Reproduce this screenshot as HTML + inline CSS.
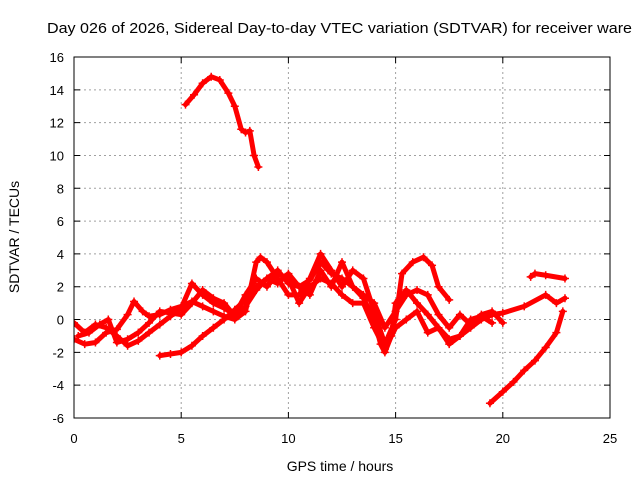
<!DOCTYPE html>
<html><head><meta charset="utf-8"><style>
body{margin:0;background:#fff}
svg{display:block;font-family:"Liberation Sans",sans-serif}
</style></head><body>
<svg id="chart" width="640" height="480" viewBox="0 0 640 480">
<rect width="640" height="480" fill="#fff"/>
<text x="47" y="33" font-size="15" textLength="585" lengthAdjust="spacingAndGlyphs" fill="#000">Day 026 of 2026, Sidereal Day-to-day VTEC variation (SDTVAR) for receiver ware</text>
<g id="grid"></g>
<g id="series" clip-path="url(#clip)"></g>
<defs><clipPath id="clip"><rect x="74" y="57" width="536" height="361"/></clipPath></defs>
<rect x="74" y="57" width="536" height="361" fill="none" stroke="#000" stroke-width="1"/>
<g id="ticks"></g>
<text x="19" y="237" font-size="14" text-anchor="middle" transform="rotate(-90 19 237)">SDTVAR / TECUs</text>
<text x="340" y="471" font-size="14" text-anchor="middle">GPS time / hours</text>
</svg>
<script>
const xTicks=[0,5,10,15,20,25];
const yTicks=[-6,-4,-2,0,2,4,6,8,10,12,14,16];
const trackHigh=[[5.2,13.1],[5.6,13.7],[6.0,14.4],[6.4,14.8],[6.8,14.6],[7.2,13.8],[7.5,13.0],[7.8,11.6],[8.0,11.4],[8.2,11.5],[8.4,10.0],[8.6,9.3]];
const trackRise=[[19.4,-5.1],[20,-4.4],[20.5,-3.8],[21,-3.1],[21.5,-2.5],[22,-1.7],[22.5,-0.8],[22.8,0.5]];
const trackTopRight=[[21.3,2.6],[21.5,2.8],[22,2.7],[22.9,2.5]];
const trackA=[[4,-2.2],[4.5,-2.1],[5,-2.0],[5.5,-1.6],[6,-1],[6.5,-0.5],[7,0],[7.5,0.6],[8,1.2],[8.5,2.0],[9,2.5],[9.5,2.2],[10,2.8],[10.5,2.0],[11,2.4],[11.5,3.5],[12,2.8],[12.5,2.5],[13,2.0],[13.5,1.3],[14,0.0],[14.3,-1.5],[14.5,-2.0],[14.8,-1.0],[15,1.0],[15.5,1.8],[16,1.0],[16.5,0.3],[17,-0.5],[17.5,-1.5],[18,-1.0],[18.5,-0.5],[19,0],[19.5,0.3],[20,0.4],[21,0.8],[22,1.5],[22.5,1.0],[22.9,1.3]];
const trackB=[[0,-1.2],[0.5,-1.5],[1,-1.4],[1.5,-0.8],[2,-0.6],[2.5,0.3],[2.8,1.1],[3.2,0.5],[3.5,0.2],[4,0.3],[4.5,0.6],[5,0.8],[5.5,1.1],[6,0.8],[6.5,0.5],[7,0.2],[7.5,0],[8,0.5],[8.5,3.5],[8.7,3.8],[9,3.5],[9.5,2.5],[10,1.5],[10.5,1.5],[11,2.5],[11.5,4.0],[12,3.0],[12.5,2.0],[13,3.0],[13.5,2.5],[14,0.5],[14.5,-1.5],[15,0],[15.3,2.8],[15.8,3.5],[16.3,3.8],[16.7,3.3],[17,2.0],[17.5,1.2]];
const trackC=[[0,-0.2],[0.5,-0.8],[1,-0.3],[1.5,-0.5],[2,-1.0],[2.5,-1.6],[3,-1.3],[3.5,-0.8],[4,-0.3],[4.5,0.2],[5,0.7],[5.5,2.2],[6,1.5],[6.5,1.0],[7,0.7],[7.5,0.3],[8,1.5],[8.5,2.5],[9,2.0],[9.5,2.8],[10,2.5],[10.5,1.0],[11,2.0],[11.5,2.5],[12,2.2],[12.5,1.5],[13,1.0],[13.5,1.0],[14,-0.5],[14.5,-1.8],[15,-0.5],[15.5,0],[16,0.5],[16.5,-0.8],[17,-0.5],[17.5,-1.2],[18,-1.0],[18.5,0],[19,0.2],[19.5,-0.2]];
const trackD=[[0.2,-1.0],[0.7,-0.8],[1.2,-0.3],[1.6,0.0],[2.0,-1.4],[2.5,-1.2],[3,-0.8],[3.5,-0.2],[4,0.5],[5,0.3],[5.5,1.0],[6,1.8],[6.5,1.3],[7,1.0],[7.5,0.2],[8,0.8],[8.5,1.8],[9,2.5],[9.5,3.0],[10,2.2],[10.5,2.0],[11,1.5],[11.5,3.0],[12,2.0],[12.5,3.5],[13,2.0],[13.5,1.5],[14,1.0],[14.5,-0.5],[15,0.5],[15.5,1.5],[16,1.8],[16.5,1.5],[17,0.3],[17.5,-0.5],[18,0.3],[18.5,-0.3],[19,0.3],[19.5,0.5],[20,-0.2]];
const tracks=[trackHigh,trackRise,trackTopRight,trackA,trackB,trackC,trackD];

const X0=74,X1=610,Y0=418,Y1=57;
const xs=v=>X0+(v-0)/(25-0)*(X1-X0);
const ys=v=>Y0-(v+6)/(22)*(Y0-Y1);
const NS="http://www.w3.org/2000/svg";
const mk=(t,a)=>{const e=document.createElementNS(NS,t);for(const k in a)e.setAttribute(k,a[k]);return e;};
const grid=document.getElementById('grid'),ticks=document.getElementById('ticks'),ser=document.getElementById('series');
xTicks.forEach(t=>{const x=xs(t);
 if(t>0&&t<25){const g=mk('line',{x1:x,x2:x,y1:Y1,y2:Y0,stroke:'#a0a0a0','stroke-dasharray':'2,3','stroke-width':1});
 grid.appendChild(g);}
 const tk=mk('path',{d:`M${x},${Y0}v-6M${x},${Y1}v6`,stroke:'#000'});ticks.appendChild(tk);
 const l=mk('text',{x:x,y:443,'font-size':13,'text-anchor':'middle'});l.textContent=t;
 ticks.appendChild(l);});
yTicks.forEach(t=>{const y=ys(t);
 if(t>-6&&t<16){const g=mk('line',{x1:X0,x2:X1,y1:y,y2:y,stroke:'#a0a0a0','stroke-dasharray':'2,3','stroke-width':1});
 grid.appendChild(g);}
 const tk=mk('path',{d:`M${X0},${y}h6M${X1},${y}h-6`,stroke:'#000'});ticks.appendChild(tk);
 const l=mk('text',{x:64,y:y+5,'font-size':13,'text-anchor':'end'});l.textContent=t;
 ticks.appendChild(l);});
tracks.forEach((tr,i)=>{
 const pl=mk('polyline',{points:tr.map(p=>xs(p[0])+','+ys(p[1])).join(' '),fill:'none',stroke:'#f00','stroke-width':5,'stroke-linejoin':'round','stroke-linecap':'round'});
 
 
 ser.appendChild(pl);
 tr.forEach(p=>{const x=xs(p[0]),y=ys(p[1]);
  const m=mk('path',{d:`M${x-4},${y}h8M${x},${y-4}v8`,stroke:'#f00','stroke-width':1.5});
  
  
  ser.appendChild(m);});
});
</script>
</body></html>
